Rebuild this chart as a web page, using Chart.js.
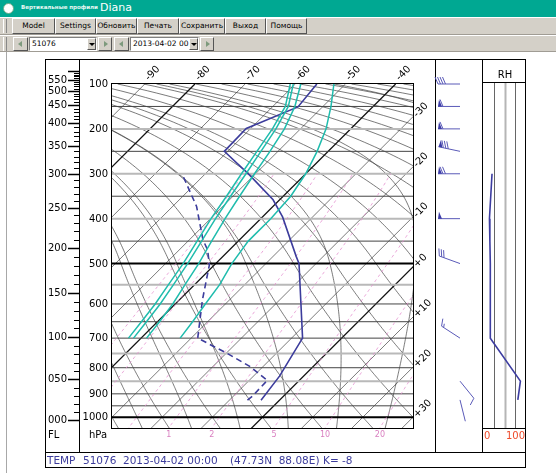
<!DOCTYPE html>
<html><head><meta charset="utf-8">
<script src="https://cdn.jsdelivr.net/npm/chart.js@4"></script>
<style>
html,body{margin:0;padding:0;width:556px;height:473px;overflow:hidden;background:#fff;font-family:"DejaVu Sans",sans-serif;}
#main{position:absolute;left:0;top:0;}
#rh{position:absolute;left:483px;top:0;}
#title{position:absolute;left:0;top:0;width:556px;height:17px;background:#00a892;color:#fff;z-index:5;}
#title .ico{position:absolute;left:3px;top:3px;width:9px;height:9px;border-radius:50%;background:#fff;border:1px solid #6a8;}
#title .t1{position:absolute;left:21px;top:4px;font-size:5.5px;font-weight:bold;color:#e8f8f4;white-space:nowrap;}
#title .t2{position:absolute;left:100px;top:1px;font-size:11px;color:#fff;}
.tb{position:absolute;left:0;width:556px;background:#d4d0c8;z-index:5;border-top:1px solid #fff;border-bottom:1px solid #a09c94;box-sizing:border-box;}
#tb1{top:17px;height:18px;}
#tb2{top:35px;height:17px;}
.grip{position:absolute;left:3px;top:1px;width:2px;height:14px;border-left:1px solid #fff;border-right:1px solid #888;}
.btn{position:absolute;top:0px;height:16px;box-sizing:border-box;border-top:1px solid #fff;border-left:1px solid #fff;border-right:1px solid #555;border-bottom:1px solid #555;font-size:7.5px;line-height:14px;text-align:center;color:#000;background:#d4d0c8;white-space:nowrap;overflow:hidden;}
.cb{position:absolute;top:1px;height:14px;box-sizing:border-box;border-top:1px solid #808080;border-left:1px solid #808080;border-right:1px solid #fff;border-bottom:1px solid #fff;background:#fff;font-size:7.5px;line-height:12px;padding-left:2px;white-space:nowrap;}
.cb .ar{position:absolute;right:0;top:0;width:9px;height:12px;background:#d4d0c8;box-sizing:border-box;border-top:1px solid #fff;border-left:1px solid #fff;border-right:1px solid #555;border-bottom:1px solid #555;}
.cb .ar:after{content:"";position:absolute;left:1px;top:4px;border-left:3px solid transparent;border-right:3px solid transparent;border-top:3px solid #000;}
.sb{position:absolute;top:1px;height:14px;box-sizing:border-box;border-top:1px solid #fff;border-left:1px solid #fff;border-right:1px solid #555;border-bottom:1px solid #555;background:#d4d0c8;}
.sb.l:after{content:"";position:absolute;left:4px;top:3px;border-top:3px solid transparent;border-bottom:3px solid transparent;border-right:4px solid #7d9a7d;}
.sb.r:after{content:"";position:absolute;left:5px;top:3px;border-top:3px solid transparent;border-bottom:3px solid transparent;border-left:4px solid #7d9a7d;}
</style></head>
<body>
<canvas id="main" width="556" height="473"></canvas>
<canvas id="rh" width="43" height="473"></canvas>
<div id="title"><span class="ico"></span><span class="t1">Вертикальные профили</span><span class="t2">Diana</span></div>
<div id="tb1" class="tb"><div class="grip"></div>
<div class="btn" style="left:12px;width:43px">Model</div>
<div class="btn" style="left:55px;width:41px">Settings</div>
<div class="btn" style="left:96px;width:41px">Обновить</div>
<div class="btn" style="left:137px;width:42px">Печать</div>
<div class="btn" style="left:179px;width:46px">Сохранить</div>
<div class="btn" style="left:225px;width:41px">Выход</div>
<div class="btn" style="left:266px;width:41px">Помощь</div>
</div>
<div id="tb2" class="tb"><div class="grip"></div>
<div class="sb l" style="left:13px;width:15px"></div>
<div class="cb" style="left:29px;width:68px">51076<div class="ar"></div></div>
<div class="sb r" style="left:98px;width:14px"></div>
<div class="sb l" style="left:114px;width:15px"></div>
<div class="cb" style="left:130px;width:69px">2013-04-02 00<div class="ar"></div></div>
<div class="sb r" style="left:200px;width:14px"></div>
</div>
<script>
// ---------------- data ----------------
const tempP = [926, 831, 700, 500, 484, 396, 358, 303, 250, 199, 151, 100];
const tempT = [-3.7, -4.8, -7.8, -23.4, -25.4, -36.0, -41.3, -50.9, -60.7, -60.9, -54.9, -55.7];
const dewP  = [926, 910, 847, 795, 748, 700, 589, 503, 470, 447, 373, 305];
const dewT  = [-6.4, -6.2, -6.4, -12.7, -20.1, -28.7, -35.4, -41.0, -44.3, -47.3, -55.2, -64.0];
const trailP = [100, 150, 200, 250, 300, 350, 400, 450, 500, 550, 600, 650, 700];
const trail1 = [-61.0, -57.5, -55.6, -54.2, -52.8, -51.3, -49.9, -48.2, -46.5, -45.2, -44.0, -43.2, -42.5];
const trail2 = [-60.4, -56.9, -54.9, -53.4, -51.9, -50.5, -49.0, -47.3, -45.6, -44.2, -43.0, -42.2, -41.5];
const trail3 = [-58.9, -55.6, -53.2, -51.6, -50.2, -48.7, -47.1, -45.3, -43.4, -41.9, -40.5, -39.6, -38.9];
const trail4 = [-52.3, -48.4, -44.9, -42.2, -40.0, -38.5, -38.0, -38.0, -36.8, -35.0, -34.0, -33.0, -32.2];
const rhP = [300, 350, 400, 450, 500, 600, 700, 850, 925];
const rhV = [21, 18, 15, 16, 17, 17, 17, 87, 81];
const windP   = [925, 850, 700, 500, 400, 300, 250, 200, 150, 100];
const windDir = [166, 141, 303, 290, 270, 270, 282, 270, 270, 270];
const windKt  = [2, 10, 15, 30, 50, 70, 80, 60, 60, 40];
const pressLabels = [100, 200, 300, 400, 500, 600, 700, 800, 900, 1000];
const topIsoLabels = [-90, -80, -70, -60, -50, -40];
const sideIsoLabels = [-30, -20, -10, 0, 10, 20, 30];
const mixLabels = [1, 2, 5, 10, 20];
const footer = ["TEMP", "51076", "2013-04-02 00:00", "(47.73N  88.08E)", "K= -8"];

// ---------------- diagram coordinate (skew / vertical) ----------------
const KLOG = 44.26, KLIN = 0.08964, Z500 = KLOG * Math.log(2);
function Z(p) { return p >= 500 ? KLOG * Math.log(1000 / p) : Z500 + KLIN * (500 - p); }
const toPts = (P, T) => P.map((p, i) => ({x: T[i] + Z(p), y: Z(p)}));

function esat(T) { return 6.112 * Math.exp(17.67 * T / (T + 243.5)); }
function tdOfMix(w, p) { const e = w * p / (622 + w); const l = Math.log(e / 6.112); return 243.5 * l / (17.67 - l); }
function moistDT(T, p) {
  const Tk = T + 273.15, e = esat(T), r = 0.622 * e / (p - e);
  return (287.04 * Tk + 2.501e6 * r) / (1005.7 + 2.501e6 * 2.501e6 * r * 0.622 / (287.04 * Tk * Tk)) / p;
}
function moistLine(T0) {
  const up = [], dn = [];
  let T = T0, p = 1000;
  while (p > 100) { const k1 = moistDT(T, p), k2 = moistDT(T - k1 * 2.5, p - 2.5); T -= k2 * 5; p -= 5; up.push([p, T]); }
  T = T0; p = 1000;
  while (p < 1060) { const k1 = moistDT(T, p), k2 = moistDT(T + k1 * 2.5, p + 2.5); T += k2 * 5; p += 5; dn.push([p, T]); }
  return dn.reverse().concat([[1000, T0]], up);
}
function fl2p(fl) {
  const h = fl * 30.48;
  if (h <= 11000) return 1013.25 * Math.pow(1 - 0.0065 * h / 288.15, 5.25588);
  return 226.32 * Math.exp(-(h - 11000) * 9.80665 / (287.053 * 216.65));
}

const FONT = '"DejaVu Sans", sans-serif';
const grid = {
  id: 'grid',
  beforeDatasetsDraw(chart) {
    const ctx = chart.ctx, xs = chart.scales.x, ys = chart.scales.y, a = chart.chartArea;
    const X = (T, p) => xs.getPixelForValue(T + Z(p)), Y = p => ys.getPixelForValue(Z(p));
    ctx.save();
    ctx.beginPath(); ctx.rect(a.left, a.top, a.right - a.left, a.bottom - a.top); ctx.clip();
    const poly = (pts) => { ctx.beginPath(); pts.forEach((q, i) => { const x = X(q[1], q[0]), y = Y(q[0]); i ? ctx.lineTo(x, y) : ctx.moveTo(x, y); }); ctx.stroke(); };
    const pl = [];
    for (let p = 1060; p >= 100; p -= 5) pl.push(p);
    ctx.strokeStyle = 'rgba(60,60,60,0.85)'; ctx.lineWidth = 0.8;
    for (let th = -40; th <= 200; th += 10) poly(pl.map(p => [p, (th + 273.15) * Math.pow(p / 1000, 0.2857) - 273.15]));
    for (let tw = -25; tw <= 40; tw += 10) poly(moistLine(tw));
    for (let t = -130; t <= 40; t += 10) {
      const bold = (t % 40 === 0);
      ctx.strokeStyle = bold ? '#111' : 'rgba(60,60,60,0.85)'; ctx.lineWidth = bold ? 1.3 : 0.8;
      poly([[1060, t], [100, t]]);
    }
    const thin = [150, 250, 350, 450, 600, 650, 700, 800, 900, 950], grey = [200, 300, 400, 550, 750, 850], blk = [500, 1000];
    const hl = (p) => { const y = Y(p); ctx.beginPath(); ctx.moveTo(a.left, y); ctx.lineTo(a.right, y); ctx.stroke(); };
    ctx.strokeStyle = '#b9b9b9'; ctx.lineWidth = 2; grey.forEach(hl);
    ctx.strokeStyle = '#444'; ctx.lineWidth = 1; thin.forEach(hl);
    ctx.strokeStyle = '#000'; ctx.lineWidth = 2; blk.forEach(hl);
    ctx.strokeStyle = '#e58fcf'; ctx.lineWidth = 0.8; ctx.setLineDash([3, 3]);
    [0.1, 0.2, 0.5, 1, 2, 5, 10, 20].forEach(w => poly(pl.filter(p => p >= 300).map(p => [p, tdOfMix(w, p)])));
    ctx.setLineDash([]);
    ctx.restore();
  }
};

function barb(ctx, x0, y0, dir, spd) {
  const L = 22, r = dir * Math.PI / 180, ux = Math.sin(r), uy = -Math.cos(r), nx = -uy, ny = ux;
  const tx = x0 + ux * L, ty = y0 + uy * L;
  ctx.beginPath(); ctx.moveTo(x0, y0); ctx.lineTo(tx, ty); ctx.stroke();
  let s = Math.round(spd / 5) * 5, d = 0;
  while (s >= 50) {
    const ax = tx - ux * d, ay = ty - uy * d, bx = tx - ux * (d + 4), by = ty - uy * (d + 4);
    ctx.beginPath(); ctx.moveTo(ax, ay); ctx.lineTo(ax + nx * 7 - ux * 1, ay + ny * 7 - uy * 1); ctx.lineTo(bx, by); ctx.closePath(); ctx.fill();
    d += 5; s -= 50;
  }
  while (s >= 10) {
    const ax = tx - ux * d, ay = ty - uy * d;
    ctx.beginPath(); ctx.moveTo(ax, ay); ctx.lineTo(ax + nx * 7 + ux * 3, ay + ny * 7 + uy * 3); ctx.stroke();
    d += 2.5; s -= 10;
  }
  if (s >= 5) {
    if (d === 0) d = 2.5;
    const ax = tx - ux * d, ay = ty - uy * d;
    ctx.beginPath(); ctx.moveTo(ax, ay); ctx.lineTo(ax + nx * 3.5 + ux * 1.5, ay + ny * 3.5 + uy * 1.5); ctx.stroke();
  }
}

const decor = {
  id: 'decor',
  afterDraw(chart) {
    const ctx = chart.ctx, xs = chart.scales.x, ys = chart.scales.y, a = chart.chartArea;
    const X = (T, p) => xs.getPixelForValue(T + Z(p)), Y = p => ys.getPixelForValue(Z(p));
    ctx.save();
    ctx.strokeStyle = '#000'; ctx.lineWidth = 1;
    const ln = (x1, y1, x2, y2) => { ctx.beginPath(); ctx.moveTo(x1, y1); ctx.lineTo(x2, y2); ctx.stroke(); };
    ctx.strokeRect(a.left - 0.5, a.top - 0.5, a.right - a.left + 1, a.bottom - a.top + 1);
    ctx.strokeRect(45.5, 59.5, 480, 408);
    ln(79.5, 59.5, 79.5, 452.5); ln(435.5, 59.5, 435.5, 452.5); ln(482.5, 59.5, 482.5, 452.5);
    ln(45.5, 452.5, 525.5, 452.5); ln(482.5, 82.5, 525.5, 82.5); ln(482.5, 428.5, 525.5, 428.5);
    ctx.strokeStyle = '#a8a8a8'; ln(6.5, 52, 6.5, 473);
    ctx.strokeStyle = '#000'; ctx.fillStyle = '#000';
    ctx.font = '10px ' + FONT; ctx.textAlign = 'right'; ctx.textBaseline = 'middle';
    for (let fl = 0; fl <= 600; fl += 10) {
      const y = Math.round(Y(fl2p(fl))) + 0.5;
      if (fl % 50 === 0) {
        ctx.lineWidth = 1.5; ln(68, y, 79, y);
        if (fl <= 550) ctx.fillText(String(fl).padStart(3, '0'), 67, y);
      } else { ctx.lineWidth = 1; ln(74, y, 79, y); }
    }
    pressLabels.forEach(p => ctx.fillText(String(p), 108, Y(p) + 0.5));
    ctx.textAlign = 'left';
    ctx.fillText('FL', 48, 435); ctx.fillText('hPa', 89, 435);
    topIsoLabels.forEach(t => {
      const x = X(t, 100);
      ctx.save(); ctx.translate(x + 4, 81); ctx.rotate(-Math.PI / 4); ctx.textBaseline = 'alphabetic'; ctx.fillText(String(t), 0, 0); ctx.restore();
    });
    sideIsoLabels.forEach(t => {
      const z = xs.getValueForPixel(a.right) - t, y = ys.getPixelForValue(z);
      ctx.save(); ctx.translate(a.right + 4, y + 1); ctx.rotate(-Math.PI / 4); ctx.textBaseline = 'alphabetic';
      ctx.fillText((t >= 0 ? '+' : '') + t, 0, 0); ctx.restore();
    });
    ctx.fillStyle = '#d97fc0'; ctx.font = '8px ' + FONT; ctx.textAlign = 'center'; ctx.textBaseline = 'middle';
    mixLabels.forEach(w => ctx.fillText(String(w), X(tdOfMix(w, 1049), 1049), 435));
    ctx.fillStyle = '#000'; ctx.font = '10px ' + FONT; ctx.fillText('RH', 505, 75);
    ctx.fillStyle = '#ee4a2a'; ctx.textAlign = 'left'; ctx.fillText('0', 484, 436);
    ctx.textAlign = 'right'; ctx.fillText('100', 525, 436);
    ctx.strokeStyle = '#5a5ab8'; ctx.fillStyle = '#3c3ca8'; ctx.lineWidth = 1;
    windP.forEach((p, i) => barb(ctx, 460, Y(p), windDir[i], windKt[i]));
    ctx.fillStyle = '#3c3c9c'; ctx.font = '10.5px ' + FONT; ctx.textAlign = 'left'; ctx.textBaseline = 'middle';
    const fx = [47, 83, 123, 230, 323];
    footer.forEach((s, i) => ctx.fillText(s, fx[i], 461));
    ctx.restore();
  }
};

const line = (data, color, width, dash) => ({data, showLine: true, borderColor: color, borderWidth: width, borderDash: dash || [], pointRadius: 0, fill: false, tension: 0});
new Chart(document.getElementById('main'), {
  type: 'scatter',
  data: {datasets: [
    line(toPts(trailP, trail1), '#1fbcad', 1.5),
    line(toPts(trailP, trail2), '#1fbcad', 1.5),
    line(toPts(trailP, trail3), '#1fbcad', 1.5),
    line(toPts(trailP, trail4), '#1fbcad', 1.5),
    line(toPts(dewP, dewT), '#3c3c9c', 1.6, [6, 4]),
    line(toPts(tempP, tempT), '#3c3c9c', 1.6)
  ]},
  options: {
    responsive: false, animation: false, events: [],
    layout: {padding: {left: 112, right: 143, top: 84, bottom: 45}},
    scales: {x: {type: 'linear', min: -30, max: 30, display: false}, y: {type: 'linear', min: Z(1050), max: Z(100), display: false}},
    plugins: {legend: {display: false}, tooltip: {enabled: false}}
  },
  plugins: [grid, decor]
});

const rhGrid = {
  id: 'rhgrid',
  beforeDatasetsDraw(chart) {
    const ctx = chart.ctx, xs = chart.scales.x, a = chart.chartArea;
    ctx.save();
    [[25, '#666', 1], [50, '#b5b5b5', 2], [75, '#666', 1]].forEach(([v, c, w]) => {
      const x = Math.round(xs.getPixelForValue(v)) + 0.5; ctx.strokeStyle = c; ctx.lineWidth = w;
      ctx.beginPath(); ctx.moveTo(x, a.top - 1); ctx.lineTo(x, a.bottom); ctx.stroke();
    });
    ctx.restore();
  }
};
new Chart(document.getElementById('rh'), {
  type: 'scatter',
  data: {datasets: [line(rhP.map((p, i) => ({x: rhV[i], y: Z(p)})), '#3c3ca0', 1.6)]},
  options: {
    responsive: false, animation: false, events: [],
    layout: {padding: {left: 0, right: 0, top: 84, bottom: 45}},
    scales: {x: {type: 'linear', min: 0, max: 100, display: false}, y: {type: 'linear', min: Z(1050), max: Z(100), display: false}},
    plugins: {legend: {display: false}, tooltip: {enabled: false}}
  },
  plugins: [rhGrid]
});
</script>
</body></html>
